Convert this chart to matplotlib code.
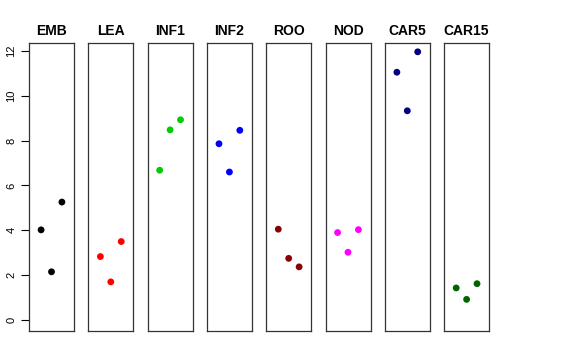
import matplotlib
matplotlib.use("Agg")
import matplotlib.pyplot as plt

plt.rcParams["font.family"] = ["Liberation Sans", "DejaVu Sans"]

groups = ["EMB", "LEA", "INF1", "INF2", "ROO", "NOD", "CAR5", "CAR15"]
colors = ["black", "red", "#00CD00", "blue", "#8B0000", "magenta", "#000080", "#006400"]
positions = [1, 2, 3]
values = [
    [4.02, 2.15, 5.26],
    [2.83, 1.70, 3.50],
    [6.68, 8.48, 8.93],
    [7.86, 6.60, 8.46],
    [4.05, 2.75, 2.37],
    [3.90, 3.02, 4.03],
    [11.05, 9.33, 11.96],
    [1.43, 0.92, 1.62],
]
y_ticks = [0, 2, 4, 6, 8, 10, 12]

W, H = 576, 360
fig = plt.figure(figsize=(W / 100, H / 100), dpi=100)

left0, pw, step = 29, 45, 59.3
top, bottom = 43.3, 331

for i, (name, col, vals) in enumerate(zip(groups, colors, values)):
    x0 = left0 + i * step
    ax = fig.add_axes([x0 / W, 1 - bottom / H, pw / W, (bottom - top) / H])
    ax.scatter(positions, vals, s=24, color=col, edgecolors="none", zorder=3)
    ax.set_xlim(-0.16, 4.16)
    ax.set_ylim(-0.49, 12.34)
    ax.set_xticks([])
    for sp in ax.spines.values():
        sp.set_color("#333333")
        sp.set_linewidth(0.9)
    ax.set_title(name, fontsize=10, fontweight="bold", pad=6)
    if i == 0:
        ax.set_yticks(y_ticks)
        ax.set_yticklabels([str(t) for t in y_ticks], rotation=90, va="center", fontsize=8)
        ax.tick_params(axis="y", length=6, width=0.8, pad=3)
    else:
        ax.set_yticks([])

fig.savefig("out.png", dpi=100)
